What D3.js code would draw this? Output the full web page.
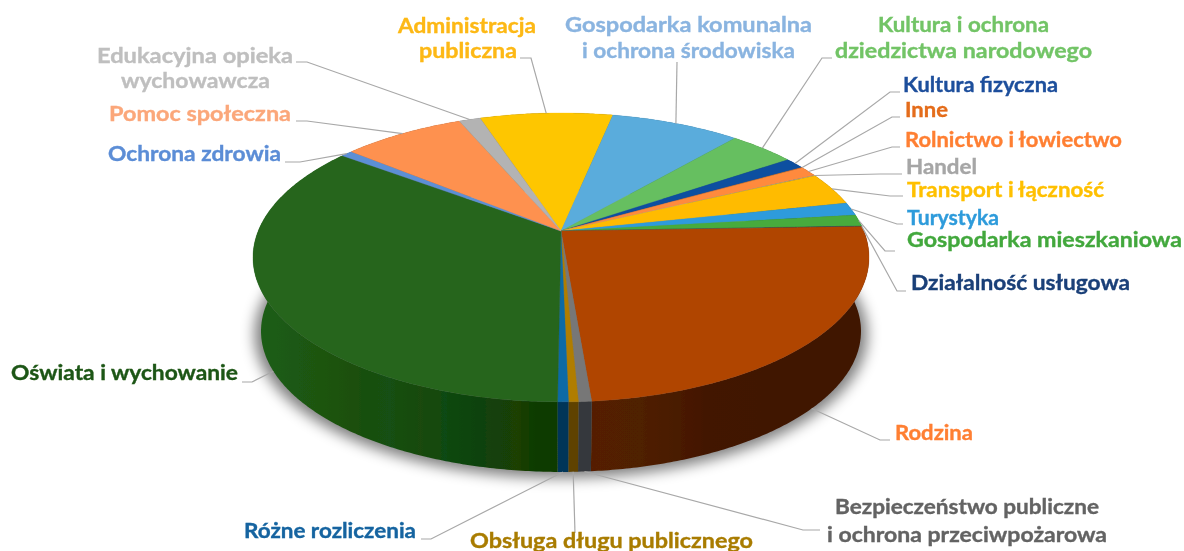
<!DOCTYPE html>
<html lang="pl">
<head>
<meta charset="utf-8">
<script src="https://cdnjs.cloudflare.com/ajax/libs/d3/7.8.5/d3.min.js"></script>
<style>
  html, body { margin: 0; padding: 0; background: #fff; }
  svg { display: block; }
  .lbl { font-family: Lato, "Open Sans", sans-serif; font-weight: 700; font-size: 20px; stroke-width: 0.35px; }
</style>
</head>
<body>
<div id="chart"></div>
<script>
// budget shares in percent, clockwise from Administracja
const categories = ['Administracja publiczna', 'Gospodarka komunalna i ochrona środowiska',
  'Kultura i ochrona dziedzictwa narodowego', 'Kultura fizyczna', 'Inne', 'Rolnictwo i łowiectwo',
  'Handel', 'Transport i łączność', 'Turystyka', 'Gospodarka mieszkaniowa', 'Działalność usługowa',
  'Rodzina', 'Bezpieczeństwo publiczne i ochrona przeciwpożarowa', 'Obsługa długu publicznego',
  'Różne rozliczenia', 'Oświata i wychowanie', 'Ochrona zdrowia', 'Pomoc społeczna',
  'Edukacyjna opieka wychowawcza'];
const values = [8.32, 8.09, 4.15, 1.25, 0.05, 1.15, 0.05, 3.7, 1.47, 1.29, 0.05,
  24.2, 0.57, 0.43, 0.47, 35.07, 0.73, 7.64, 1.34];
const topColors = ['#fec602', '#5aacdc', '#66bf60', '#0f4fa0', '#e46c1a', '#ff8a3c', '#a6a6a6',
  '#ffbb00', '#2f9bdc', '#46ab3c', '#1a3f78', '#b04500', '#777777', '#b07d00', '#0a6aa5',
  '#27651f', '#5b8fd5', '#fe9150', '#b3b3b3'];
const wallColors = ['#7a5f00', '#2a5a78', '#2f6a2a', '#072a55', '#6e320a', '#7a3f15', '#555555',
  '#7a5a00', '#15506f', '#1f5c1a', '#0c2040', '#431700', '#36393d', '#5e4200', '#013459',
  '#124d10', '#2a4a72', '#7a4525', '#5a5a5a'];
const labelColors = ['#fdb813', '#8ab4e0', '#72c466', '#1f4f9c', '#e46c1a', '#ff7f32', '#a6a6a6',
  '#ffc000', '#2e9bdb', '#43a83d', '#1a3f78', '#ff7f32', '#636363', '#a97c00', '#1464a0',
  '#1e5616', '#5b8dd6', '#fba77a', '#bfbfbf'];

// wall streaks of the two big slices
const greenWall = [[0, '#1f5e17'], [0.15, '#1a5812'], [0.32, '#1c500f'], [0.45, '#124f12'], [0.55, '#1a4a0d'],
  [0.63, '#104812'], [0.75, '#104208'], [0.87, '#1c3f06'], [0.93, '#0b3b04'], [1, '#0b3b04']];
const brownWall = [[0, '#551f00'], [0.18, '#4f2000'], [0.3, '#4a1b00'], [0.42, '#421500'], [1, '#3f1600']];

// label text: category index, line, left, right, baseline
const labelLines = [
  [0, 'Administracja', 398, 536, 33], [0, 'publiczna', 419, 517, 58],
  [1, 'Gospodarka komunalna', 565, 812, 32], [1, 'i ochrona środowiska', 582, 795, 58],
  [2, 'Kultura i ochrona', 878, 1049, 32], [2, 'dziedzictwa narodowego', 835, 1092, 58],
  [3, 'Kultura fizyczna', 903, 1058, 92], [4, 'Inne', 905, 948, 117],
  [5, 'Rolnictwo i łowiectwo', 905, 1122, 147], [6, 'Handel', 906, 977, 174],
  [7, 'Transport i łączność', 907, 1104, 197], [8, 'Turystyka', 907, 999, 225],
  [9, 'Gospodarka mieszkaniowa', 907, 1182, 247], [10, 'Działalność usługowa', 911, 1130, 290],
  [11, 'Rodzina', 895, 973, 440],
  [12, 'Bezpieczeństwo publiczne', 835, 1099, 514], [12, 'i ochrona przeciwpożarowa', 827, 1107, 542],
  [13, 'Obsługa długu publicznego', 470, 753, 548], [14, 'Różne rozliczenia', 244, 416, 538],
  [15, 'Oświata i wychowanie', 11, 238, 380], [16, 'Ochrona zdrowia', 108, 281, 161],
  [17, 'Pomoc społeczna', 109, 291, 121],
  [18, 'Edukacyjna opieka', 97, 293, 63], [18, 'wychowawcza', 121, 270, 88]
];

// leader lines: from the label end to the elbow, then on to the slice edge
const leaderBends = [
  [[520, 58], [531, 58]], [[677, 62], [677, 62]], [[832, 58], [822, 58]], [[900, 92], [890, 92]],
  [[900, 117], [892, 117]], [[900, 147], [892, 147]], [[902, 174], [880, 174]], [[903, 196], [890, 196]],
  [[903, 224], [897, 224]], [[895, 251], [885, 251]], [[906, 291], [897, 291]], [[890, 440], [880, 440]],
  [[820, 530], [803, 530]], [[575, 533], [575, 533]], [[421, 539], [431, 539]], [[242, 382], [252, 382]],
  [[285, 162], [300, 162]], [[296, 121], [307, 121]], [[296, 62], [307, 62]]
];

const W = 1184, H = 551;
const k = 0.183, A = 302.8, B = 139.6;
const topPlane = {cx: 561, cy: 231, s: 1};
const basePlane = {cx: 561, cy: 305.5, s: 0.974};
const shadowPlane = {cx: 561, cy: 308, s: 0.995};

// perspective view of the pie's circle
function project(a, plane) {
  const u = Math.sin(a), v = -Math.cos(a), w = 1 - k * v;
  return [plane.cx + plane.s * A * u / w, plane.cy + plane.s * B * v / w];
}
function arcPoints(a0, a1, plane) {
  const n = Math.max(2, Math.ceil((a1 - a0) / 0.01));
  return d3.range(n + 1).map(i => project(a0 + (a1 - a0) * i / n, plane));
}

const start = -18.29 * Math.PI / 180;
const slices = d3.pie().sort(null).startAngle(start).endAngle(start + 2 * Math.PI)(values);
const line = d3.line();

const svg = d3.select('#chart').append('svg').attr('width', W).attr('height', H);
const defs = svg.append('defs');
defs.append('filter').attr('id', 'soft').attr('x', '-20%').attr('y', '-20%').attr('width', '140%').attr('height', '140%')
  .append('feGaussianBlur').attr('stdDeviation', 7);
defs.append('filter').attr('id', 'scan').attr('x', '-2%').attr('y', '-2%').attr('width', '104%').attr('height', '104%')
  .append('feGaussianBlur').attr('stdDeviation', 0.5);
[['greenWall', greenWall], ['brownWall', brownWall]].forEach(([id, stops]) => {
  defs.append('linearGradient').attr('id', id)
    .selectAll('stop').data(stops).enter().append('stop')
    .attr('offset', d => d[0]).attr('stop-color', d => d[1]);
});

// shadow under the disc
svg.append('path')
  .attr('d', line(arcPoints(0, 2 * Math.PI, shadowPlane)) + 'Z')
  .attr('fill', '#000').attr('opacity', 0.5).attr('filter', 'url(#soft)');

// the picture is a soft scan, so everything else shares a slight blur
const chart = svg.append('g').attr('filter', 'url(#scan)');

// walls
const wallFill = (d, i) => i === 15 ? 'url(#greenWall)' : i === 11 ? 'url(#brownWall)' : wallColors[i];
chart.append('g').selectAll('path').data(slices).enter().append('path')
  .attr('d', d => line(arcPoints(d.startAngle, d.endAngle, topPlane)
    .concat(arcPoints(d.startAngle, d.endAngle, basePlane).reverse())) + 'Z')
  .attr('fill', wallFill);

// top face
chart.append('g').selectAll('path').data(slices).enter().append('path')
  .attr('d', d => line([[topPlane.cx, topPlane.cy]].concat(arcPoints(d.startAngle, d.endAngle, topPlane))) + 'Z')
  .attr('fill', (d, i) => topColors[i])
  .attr('stroke', (d, i) => topColors[i]).attr('stroke-width', 0.3);

// leaders; the front slices carry them on the lower rim
const frontSlices = [11, 12, 13, 14, 15];
chart.append('g').selectAll('path').data(slices).enter().append('path')
  .attr('d', (d, i) => {
    const mid = (d.startAngle + d.endAngle) / 2;
    const edge = project(mid, frontSlices.includes(i) ? basePlane : topPlane);
    return line([leaderBends[i][0], leaderBends[i][1], edge]);
  })
  .attr('fill', 'none').attr('stroke', '#a8a8a8').attr('stroke-width', 1.2);

// labels
chart.append('g').selectAll('text').data(labelLines).enter().append('text')
  .attr('class', 'lbl')
  .attr('x', d => d[2]).attr('y', d => d[4])
  .attr('textLength', d => d[3] - d[2]).attr('lengthAdjust', 'spacingAndGlyphs')
  .attr('fill', d => labelColors[d[0]])
  .attr('stroke', d => labelColors[d[0]])
  .text(d => d[1]);
</script>
</body>
</html>
